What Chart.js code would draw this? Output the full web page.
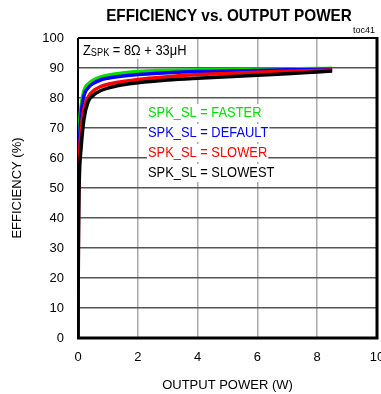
<!DOCTYPE html>
<html>
<head>
<meta charset="utf-8">
<script src="https://cdn.jsdelivr.net/npm/chart.js@4.4.1/dist/chart.umd.min.js"></script>
<style>
  html, body { margin: 0; padding: 0; background: #fff; }
  #wrap { width: 381px; height: 394px; }
</style>
</head>
<body>
<div id="wrap"><canvas id="effChart" width="381" height="394"></canvas></div>
<script>
// Output power (W), shared by all four curves
const outputPower = [0, 0.005, 0.02, 0.05, 0.1, 0.2, 0.35, 0.5, 0.75, 1, 1.5, 2, 3, 4, 5, 6, 7, 8, 8.5];

// Efficiency (%) per SPK_SL setting
const effFaster  = [0, 30, 55, 70, 77, 82.5, 84.8, 85.9, 87, 87.6, 88.3, 88.8, 89.2, 89.4, 89.5, 89.6, 89.7, 89.8, 89.9];
const effDefault = [0, 25, 50, 65, 74, 80.8, 83.5, 84.8, 86, 86.6, 87.3, 87.8, 88.4, 88.8, 89.0, 89.2, 89.4, 89.5, 89.6];
const effSlower  = [0, 20, 45, 60, 69, 76.5, 80.5, 82.3, 83.8, 84.6, 85.5, 86.2, 87.1, 87.8, 88.2, 88.6, 88.9, 89.2, 89.3];
const effSlowest = [0, 15, 40, 55, 63, 73, 79, 80.8, 82.4, 83.3, 84.4, 85.1, 86.0, 86.6, 87.1, 87.6, 88.1, 88.7, 89.0];

const xTicks = [0, 2, 4, 6, 8, 10];
const yTicks = [0, 10, 20, 30, 40, 50, 60, 70, 80, 90, 100];

const legendLines = [
    { text: 'SPK_SL = FASTER', color: '#00e000' },
    { text: 'SPK_SL = DEFAULT', color: '#0000ff' },
    { text: 'SPK_SL = SLOWER', color: '#ff0000' },
    { text: 'SPK_SL = SLOWEST', color: '#000000' }
];

const FONT = '"Liberation Sans", Arial, sans-serif';
const NARROW = 0.92;   // horizontal squeeze for the condensed-looking labels

function toPoints(ys) {
    return outputPower.map((x, i) => ({ x: x, y: ys[i] }));
}

function curve(ys, color) {
    return {
        data: toPoints(ys),
        borderColor: color,
        backgroundColor: color,
        borderWidth: 3.5,
        pointRadius: 0,
        cubicInterpolationMode: 'monotone',
        fill: false
    };
}

// draw text squeezed horizontally, anchored at its left edge
function narrowText(ctx, text, x, y, sx) {
    ctx.save();
    ctx.translate(x, y);
    ctx.scale(sx, 1);
    ctx.fillText(text, 0, 0);
    ctx.restore();
    return ctx.measureText(text).width * sx;
}

// Frame, inline labels and header text
const decorations = {
    id: 'decorations',
    beforeDatasetsDraw(chart) {
        const { ctx, chartArea: a } = chart;
        ctx.save();

        // plot frame
        ctx.strokeStyle = '#000';
        ctx.lineWidth = 2;
        ctx.beginPath();
        ctx.moveTo(a.left, a.top);
        ctx.lineTo(a.right, a.top);
        ctx.moveTo(a.left, a.top);
        ctx.lineTo(a.left, a.bottom);
        ctx.stroke();
        ctx.lineWidth = 3;
        ctx.beginPath();
        ctx.moveTo(a.left - 1, a.bottom);
        ctx.lineTo(a.right, a.bottom);
        ctx.moveTo(a.right, a.top - 1);
        ctx.lineTo(a.right, a.bottom + 1.5);
        ctx.stroke();

        // load note, top-left
        ctx.fillStyle = '#fff';
        ctx.fillRect(a.left + 1, a.top + 1, 111, 20);
        ctx.fillStyle = '#000';
        ctx.textBaseline = 'alphabetic';
        ctx.textAlign = 'left';
        let x = a.left + 5;
        const base = a.top + 17;
        ctx.font = '14px ' + FONT;
        x += narrowText(ctx, 'Z', x, base, NARROW);
        ctx.font = '10px ' + FONT;
        x += narrowText(ctx, 'SPK', x, base + 1, NARROW);
        ctx.font = '14px ' + FONT;
        narrowText(ctx, ' = 8\u03A9 + 33\u03BCH', x, base, NARROW);

        // curve labels
        ctx.font = '14px ' + FONT;
        ctx.textBaseline = 'middle';
        const lx = 148;
        legendLines.forEach((item, i) => {
            const cy = 113 + i * 20;
            const w = ctx.measureText(item.text).width * NARROW;
            ctx.fillStyle = '#fff';
            ctx.fillRect(lx - 1, cy - 9, w + 2, 18);
            ctx.fillStyle = item.color;
            narrowText(ctx, item.text, lx, cy, NARROW);
        });
        ctx.restore();
    },
    afterDraw(chart) {
        const { ctx } = chart;
        ctx.save();
        ctx.fillStyle = '#000';
        ctx.textBaseline = 'middle';
        ctx.textAlign = 'left';
        ctx.font = 'bold 17px ' + FONT;
        const title = 'EFFICIENCY vs. OUTPUT POWER';
        const tw = ctx.measureText(title).width * 0.9;
        narrowText(ctx, title, 229 - tw / 2, 16, 0.9);
        ctx.textAlign = 'right';
        ctx.font = '9px ' + FONT;
        ctx.fillText('toc41', 375, 31);
        ctx.restore();
    }
};

const chart = new Chart(document.getElementById('effChart'), {
    type: 'line',
    data: {
        datasets: [
            curve(effSlowest, '#000000'),
            curve(effSlower, '#ff0000'),
            curve(effDefault, '#0000ff'),
            curve(effFaster, '#00e000')
        ]
    },
    options: {
        responsive: false,
        animation: false,
        devicePixelRatio: 1,
        layout: { padding: { top: 38, right: 4, left: 0, bottom: 0 } },
        plugins: {
            legend: { display: false },
            title: { display: false },
            tooltip: { enabled: false }
        },
        scales: {
            x: {
                type: 'linear',
                min: 0,
                max: 10,
                afterFit: s => {
                    s.height = 56;
                    s.paddingLeft = 0;
                    s.paddingRight = 0;
                },
                afterBuildTicks: s => { s.ticks = xTicks.map(v => ({ value: v })); },
                border: { display: false },
                grid: { color: '#aaaaaa', lineWidth: 1.5, drawTicks: false },
                ticks: { color: '#000', padding: 12, maxRotation: 0, font: { family: FONT, size: 13 } },
                title: {
                    display: true,
                    text: 'OUTPUT POWER (W)',
                    color: '#000',
                    font: { family: FONT, size: 13 },
                    padding: { top: 0, bottom: 1 }
                }
            },
            y: {
                min: 0,
                max: 100,
                afterFit: s => {
                    s.width = 78;
                    s.paddingTop = 0;
                    s.paddingBottom = 0;
                },
                afterBuildTicks: s => { s.ticks = yTicks.map(v => ({ value: v })); },
                border: { display: false },
                grid: { color: '#555555', lineWidth: 1.5, drawTicks: false },
                ticks: { color: '#000', padding: 14, font: { family: FONT, size: 13 } },
                title: {
                    display: true,
                    text: 'EFFICIENCY (%)',
                    color: '#000',
                    font: { family: FONT, size: 13 },
                    padding: { top: 10, bottom: 0 }
                }
            }
        }
    },
    plugins: [decorations]
});
</script>
</body>
</html>
